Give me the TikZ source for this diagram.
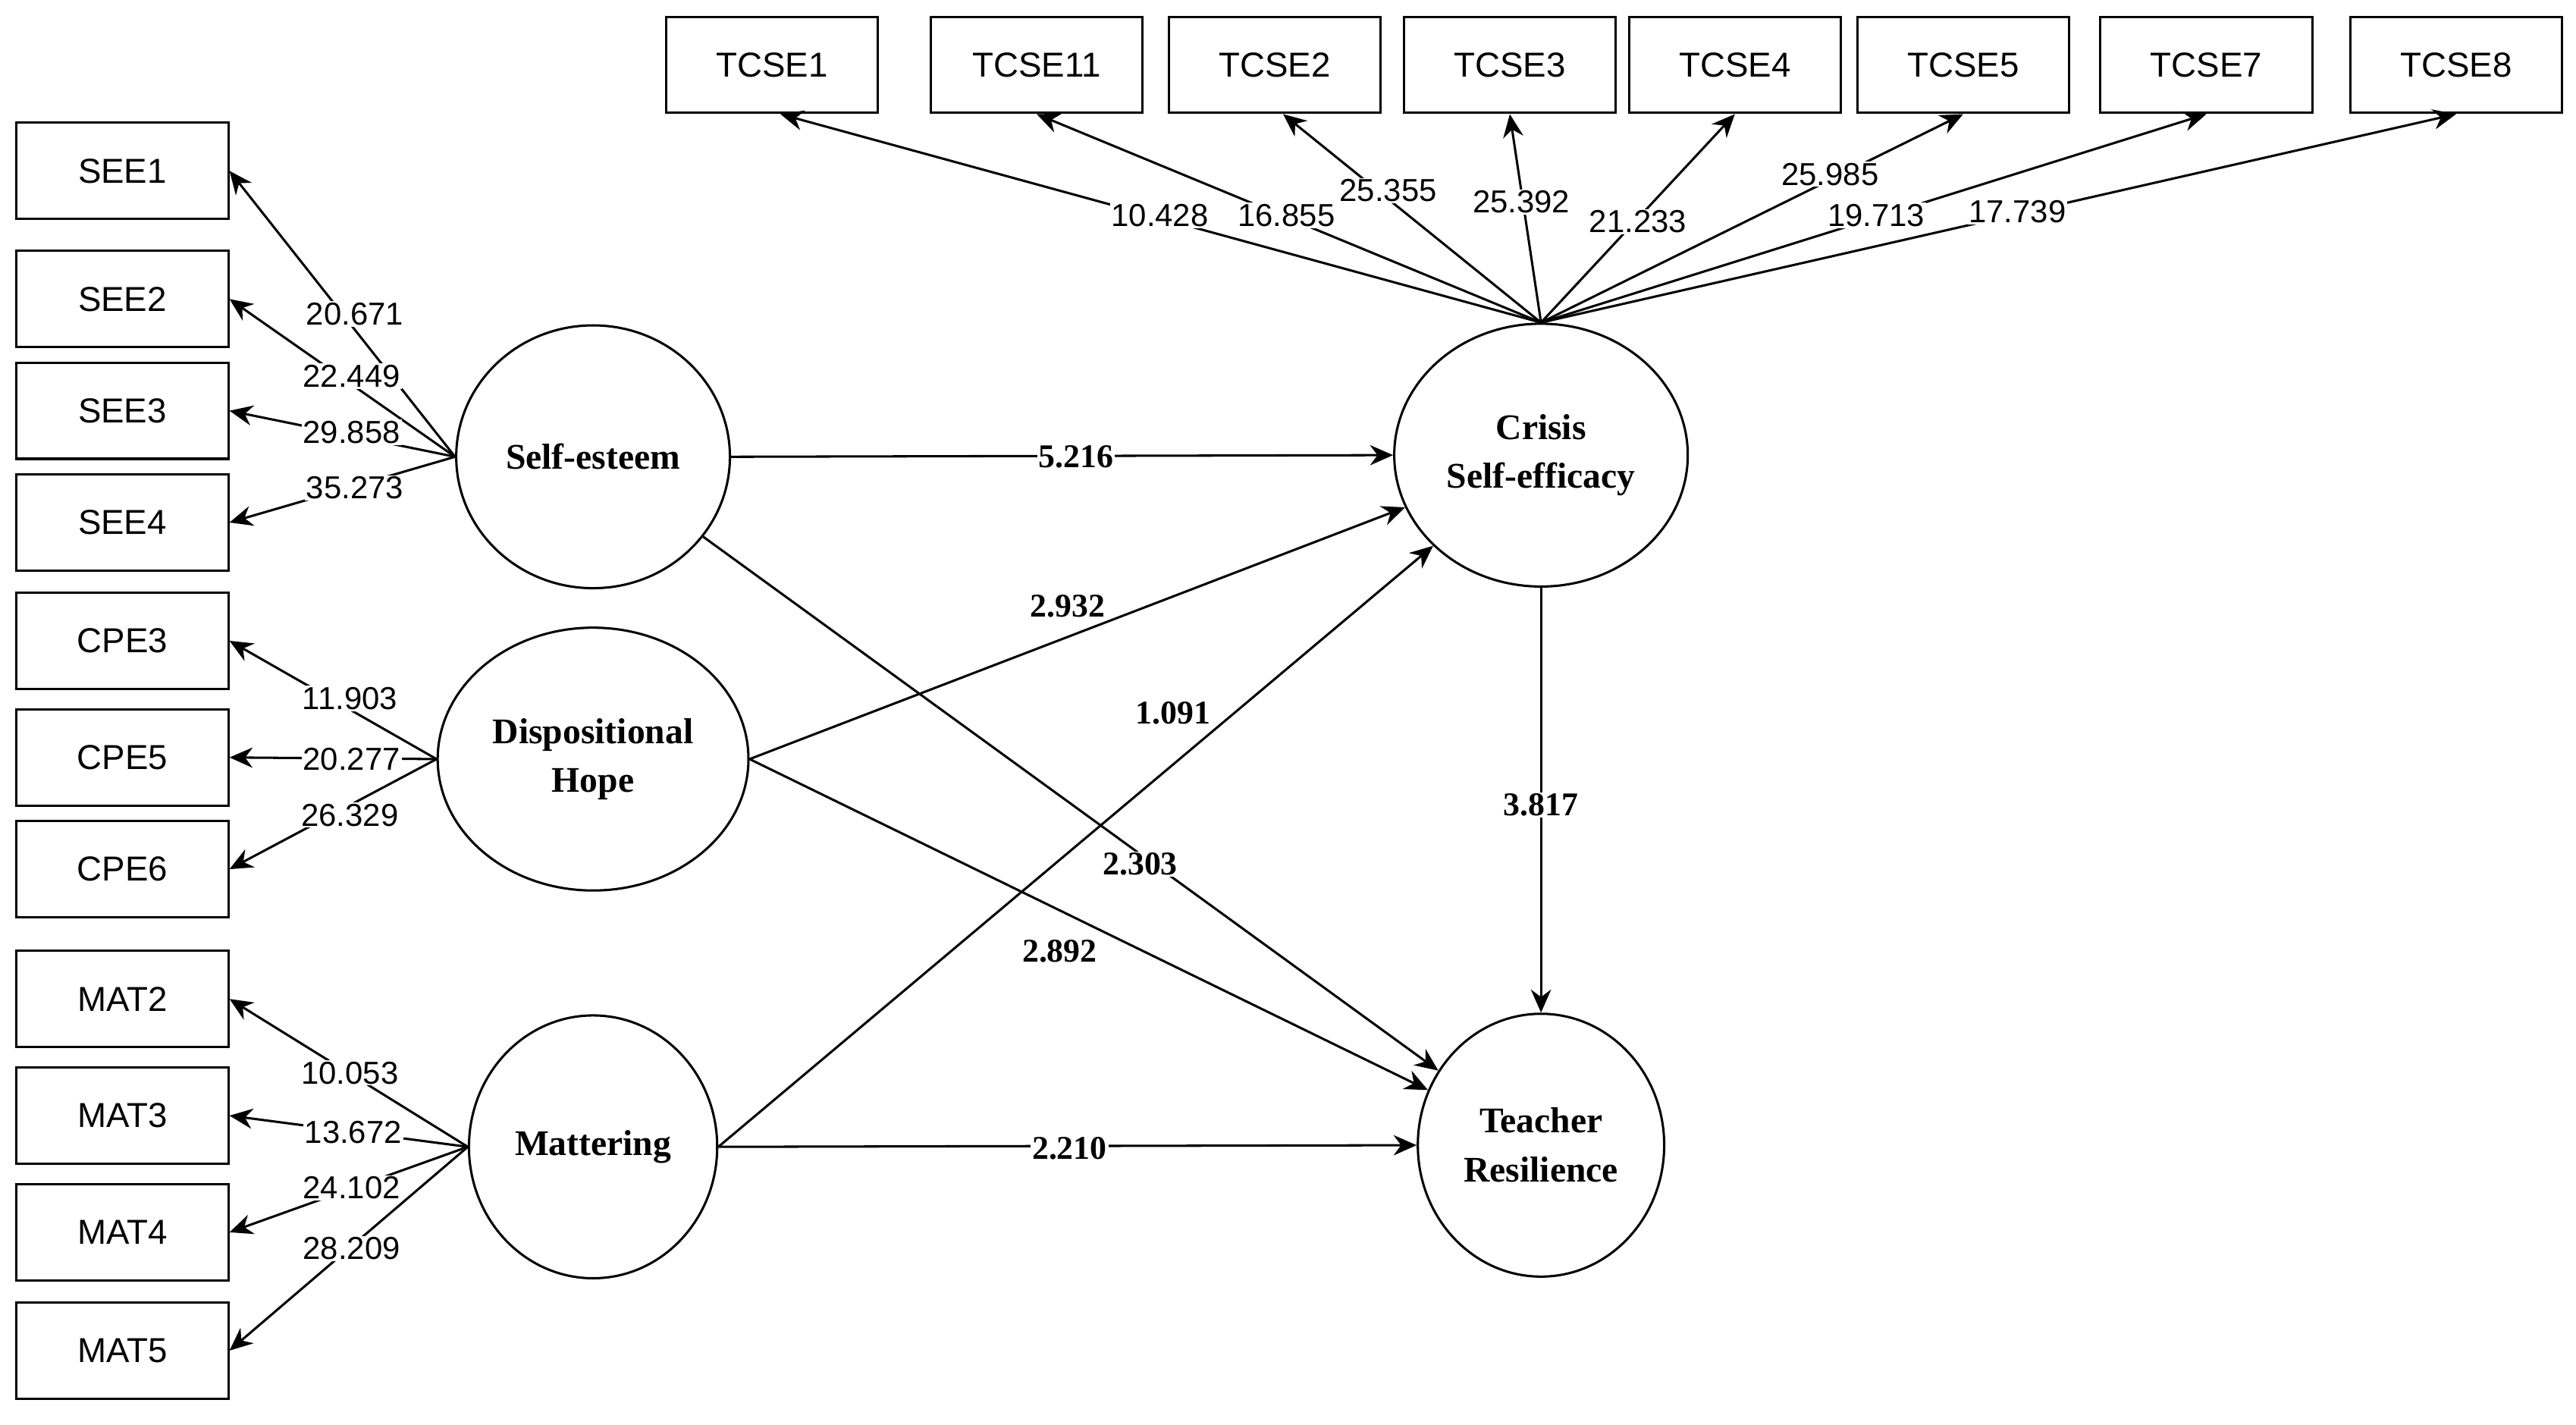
\documentclass[tikz,border=0pt]{standalone}
\usepackage{fontspec}
\setmainfont{Liberation Serif}
\newfontfamily\sansf{Liberation Sans}
\usetikzlibrary{arrows.meta,shapes.geometric}

\tikzset{
    ind/.style={draw, thick, minimum width=2.58cm, minimum height=1.17cm, font=\sansf\fontsize{12}{14}\selectfont},
    lat/.style={draw, thick, ellipse, minimum width=3cm, minimum height=3.2cm, align=center, font=\bfseries\fontsize{12.5}{17}\selectfont},
    ld/.style={-{Stealth[length=8pt,width=7pt]}, thick},
    lv/.style={fill=white, inner sep=0.5pt, font=\sansf\fontsize{11}{13}\selectfont},
    pv/.style={fill=white, inner sep=0.5pt, font=\bfseries\fontsize{11.5}{13}\selectfont},
}

\begin{document}
\begin{tikzpicture}[x=0.02cm, y=-0.02cm]
    \useasboundingbox (0,0) rectangle (1568,867);
    % latent variables
    \node (se) [lat] at (361,278) {Self-esteem};
    \node (dh) [lat] at (361,462) {Dispositional\\Hope};
    \node (mat) [lat] at (361,698) {Mattering};
    \node (cse) [lat] at (938,277) {Crisis\\Self-efficacy};
    \node (tr) [lat] at (938,697) {Teacher\\Resilience};
    % left indicators
    \node (see1) [ind] at (74.5,104) {SEE1};
    \node (see2) [ind] at (74.5,182) {SEE2};
    \node (see3) [ind] at (74.5,250) {SEE3};
    \node (see4) [ind] at (74.5,318) {SEE4};
    \node (cpe3) [ind] at (74.5,390) {CPE3};
    \node (cpe5) [ind] at (74.5,461) {CPE5};
    \node (cpe6) [ind] at (74.5,529) {CPE6};
    \node (mat2) [ind] at (74.5,608) {MAT2};
    \node (mat3) [ind] at (74.5,679) {MAT3};
    \node (mat4) [ind] at (74.5,750) {MAT4};
    \node (mat5) [ind] at (74.5,822) {MAT5};
    % top indicators
    \node (tcse1) [ind] at (470,39.5) {TCSE1};
    \node (tcse11) [ind] at (631,39.5) {TCSE11};
    \node (tcse2) [ind] at (776,39.5) {TCSE2};
    \node (tcse3) [ind] at (919,39.5) {TCSE3};
    \node (tcse4) [ind] at (1056,39.5) {TCSE4};
    \node (tcse5) [ind] at (1195,39.5) {TCSE5};
    \node (tcse7) [ind] at (1343,39.5) {TCSE7};
    \node (tcse8) [ind] at (1495,39.5) {TCSE8};
    % loadings
    \foreach \a/\b in {se/see1, se/see2, se/see3, se/see4,
                       dh/cpe3, dh/cpe5, dh/cpe6,
                       mat/mat2, mat/mat3, mat/mat4, mat/mat5}
        \draw [ld] (\a.west) -- (\b.east);
    \foreach \b/\dx in {tcse1/5, tcse11/0, tcse2/5, tcse3/0, tcse4/0, tcse5/0, tcse7/0, tcse8/0}
        \draw [ld] (cse.north) -- ([xshift=\dx*0.02cm]\b.south);
    % structural paths
    \draw [ld] (se.east) -- (cse.west);
    \draw [ld] (se) -- (tr);
    \draw [ld] (dh.east) -- (cse);
    \draw [ld] (dh.east) -- (tr);
    \draw [ld] (mat.east) -- (cse);
    \draw [ld] (mat.east) -- (tr.west);
    \draw [ld] (cse) -- (tr);
    % loading values
    \node [lv] at (216,191) {20.671};
    \node [lv] at (214,229) {22.449};
    \node [lv] at (214,263) {29.858};
    \node [lv] at (216,297) {35.273};
    \node [lv] at (213,425) {11.903};
    \node [lv] at (214,462) {20.277};
    \node [lv] at (213,496) {26.329};
    \node [lv] at (213,653) {10.053};
    \node [lv] at (215,689) {13.672};
    \node [lv] at (214,723) {24.102};
    \node [lv] at (214,760) {28.209};
    \node [lv] at (706,131) {10.428};
    \node [lv] at (783,131) {16.855};
    \node [lv] at (845,116) {25.355};
    \node [lv] at (926,123) {25.392};
    \node [lv] at (997,135) {21.233};
    \node [lv] at (1114,106) {25.985};
    \node [lv] at (1142,131) {19.713};
    \node [lv] at (1228,129) {17.739};
    % path values
    \node [pv] at (655,278) {5.216};
    \node [pv] at (650,369) {2.932};
    \node [pv] at (714,434) {1.091};
    \node [pv] at (694,526) {2.303};
    \node [pv] at (645,579) {2.892};
    \node [pv] at (651,699) {2.210};
    \node [pv] at (938,490) {3.817};
\end{tikzpicture}
\end{document}
